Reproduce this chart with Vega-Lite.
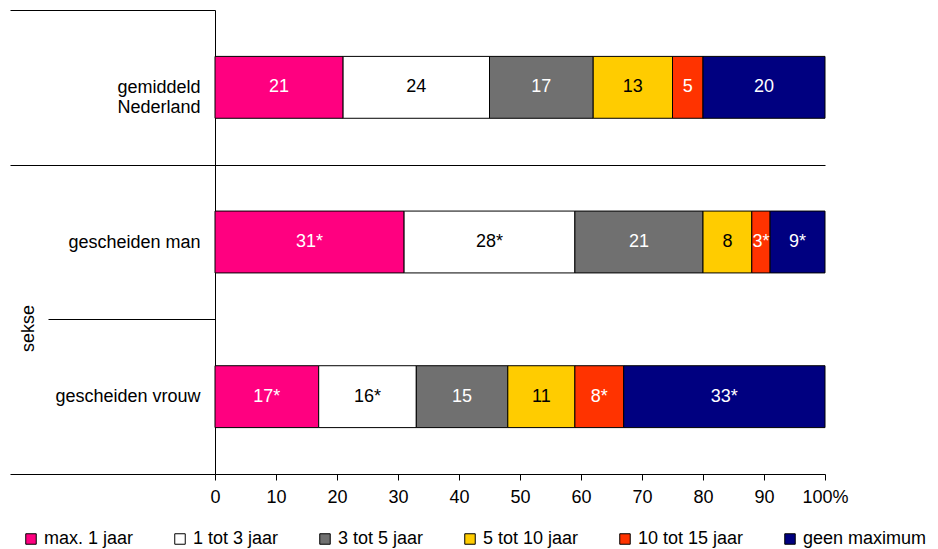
{
  "$schema": "https://vega.github.io/schema/vega-lite/v6.json",
  "width": 610,
  "height": 464,
  "autosize": "none",
  "padding": {"left": 215, "top": 10, "right": 113, "bottom": 75},
  "background": "white",
  "config": {
    "font": "Liberation Sans",
    "view": {"stroke": null}
  },
  "data": {
    "values": [
      {"group": "gemiddeld Nederland", "cat": "max. 1 jaar", "order": 1, "value": 21, "label": "21"},
      {"group": "gemiddeld Nederland", "cat": "1 tot 3 jaar", "order": 2, "value": 24, "label": "24"},
      {"group": "gemiddeld Nederland", "cat": "3 tot 5 jaar", "order": 3, "value": 17, "label": "17"},
      {"group": "gemiddeld Nederland", "cat": "5 tot 10 jaar", "order": 4, "value": 13, "label": "13"},
      {"group": "gemiddeld Nederland", "cat": "10 tot 15 jaar", "order": 5, "value": 5, "label": "5"},
      {"group": "gemiddeld Nederland", "cat": "geen maximum", "order": 6, "value": 20, "label": "20"},
      {"group": "gescheiden man", "cat": "max. 1 jaar", "order": 1, "value": 31, "label": "31*"},
      {"group": "gescheiden man", "cat": "1 tot 3 jaar", "order": 2, "value": 28, "label": "28*"},
      {"group": "gescheiden man", "cat": "3 tot 5 jaar", "order": 3, "value": 21, "label": "21"},
      {"group": "gescheiden man", "cat": "5 tot 10 jaar", "order": 4, "value": 8, "label": "8"},
      {"group": "gescheiden man", "cat": "10 tot 15 jaar", "order": 5, "value": 3, "label": "3*"},
      {"group": "gescheiden man", "cat": "geen maximum", "order": 6, "value": 9, "label": "9*"},
      {"group": "gescheiden vrouw", "cat": "max. 1 jaar", "order": 1, "value": 17, "label": "17*"},
      {"group": "gescheiden vrouw", "cat": "1 tot 3 jaar", "order": 2, "value": 16, "label": "16*"},
      {"group": "gescheiden vrouw", "cat": "3 tot 5 jaar", "order": 3, "value": 15, "label": "15"},
      {"group": "gescheiden vrouw", "cat": "5 tot 10 jaar", "order": 4, "value": 11, "label": "11"},
      {"group": "gescheiden vrouw", "cat": "10 tot 15 jaar", "order": 5, "value": 8, "label": "8*"},
      {"group": "gescheiden vrouw", "cat": "geen maximum", "order": 6, "value": 33, "label": "33*"}
    ]
  },
  "transform": [
    {"stack": "value", "groupby": ["group"], "sort": [{"field": "order", "order": "ascending"}], "as": ["x0", "x1"]},
    {"calculate": "(datum.x0 + datum.x1) / 2", "as": "xm"}
  ],
  "encoding": {
    "y": {
      "field": "group",
      "type": "nominal",
      "sort": ["gemiddeld Nederland", "gescheiden man", "gescheiden vrouw"],
      "scale": {"paddingInner": 0, "paddingOuter": 0},
      "axis": {
        "title": "sekse",
        "tickBand": "extent",
        "ticks": true,
        "tickColor": "black",
        "tickSize": {"condition": {"test": "datum.value === 'gescheiden man'", "value": 167}, "value": 205},
        "labelPadding": {"condition": {"test": "datum.value === 'gescheiden man'", "value": -152}, "value": -190},
        "labelFontSize": 18,
        "labelColor": "black",
        "labelLimit": 300,
        "labelExpr": "datum.value === 'gemiddeld Nederland' ? ['gemiddeld', 'Nederland'] : datum.label",
        "grid": true,
        "gridColor": "black",
        "gridOpacity": {"condition": {"test": "datum.value === 'gemiddeld Nederland'", "value": 1}, "value": 0},
        "domainColor": "black",
        "titleX": -187,
        "titleY": 318,
        "titleAngle": 270,
        "titleAlign": "center",
        "titleBaseline": "middle",
        "titleFontSize": 18,
        "titleFontWeight": "normal",
        "titleColor": "black"
      }
    }
  },
  "layer": [
    {
      "mark": {"type": "bar", "height": {"band": 0.4}, "stroke": "black", "strokeWidth": 1},
      "encoding": {
        "x": {
          "field": "x0",
          "type": "quantitative",
          "scale": {"domain": [0, 100], "nice": false},
          "axis": {
            "title": null,
            "values": [0, 10, 20, 30, 40, 50, 60, 70, 80, 90, 100],
            "tickSize": 6,
            "tickColor": "black",
            "domainColor": "black",
            "labelFontSize": 18,
            "labelColor": "black",
            "labelPadding": 8,
            "labelFlush": false,
            "grid": false,
            "labelExpr": "datum.value === 100 ? '100%' : datum.label"
          }
        },
        "x2": {"field": "x1"},
        "color": {
          "field": "cat",
          "type": "nominal",
          "scale": {
            "domain": ["max. 1 jaar", "1 tot 3 jaar", "3 tot 5 jaar", "5 tot 10 jaar", "10 tot 15 jaar", "geen maximum"],
            "range": ["#FF0080", "#FFFFFF", "#707070", "#FFCC00", "#FF3300", "#000080"]
          },
          "legend": {
            "title": null,
            "orient": "none",
            "legendX": -193,
            "legendY": 520,
            "direction": "horizontal",
            "columns": 6,
            "gridAlign": "none",
            "columnPadding": 37,
            "symbolType": "square",
            "symbolSize": 110,
            "symbolStrokeColor": "black",
            "symbolStrokeWidth": 1,
            "labelFontSize": 18,
            "labelColor": "black",
            "labelOffset": 4,
            "labelLimit": 200
          }
        }
      }
    },
    {
      "mark": {"type": "text", "fontSize": 18},
      "encoding": {
        "x": {"field": "xm", "type": "quantitative"},
        "text": {"field": "label"},
        "color": {
          "condition": {"test": "datum.cat === '1 tot 3 jaar' || datum.cat === '5 tot 10 jaar'", "value": "black"},
          "value": "white"
        }
      }
    }
  ]
}
